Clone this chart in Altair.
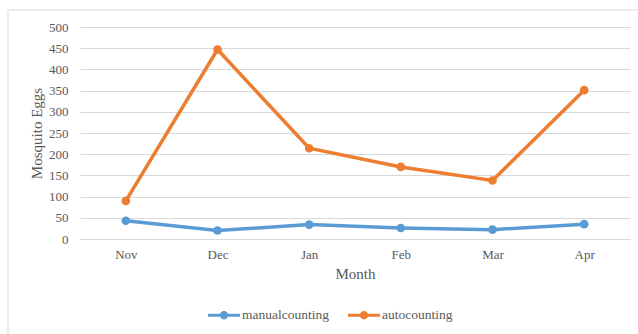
import altair as alt
import pandas as pd

months = ["Nov", "Dec", "Jan", "Feb", "Mar", "Apr"]
manual_counting = [43, 20, 34, 26, 22, 35]
auto_counting = [90, 447, 214, 170, 138, 351]
series_names = ["manualcounting", "autocounting"]
series_colors = ["#5B9BD5", "#ED7D31"]

rows = []
for name, values in zip(series_names, [manual_counting, auto_counting]):
    for m, v in zip(months, values):
        rows.append({"Month": m, "Series": name, "Eggs": v})
df = pd.DataFrame(rows)

FONT = "Liberation Serif"
TEXT = "#595959"

# line + circle legend glyph in the unit symbol space
legend_glyph = (
    "M-1,-0.095 H1 V0.095 H-1 Z "
    "M-0.26,0 A0.26,0.26 0 1,1 0.26,0 A0.26,0.26 0 1,1 -0.26,0 Z"
)

x_enc = alt.X(
    "Month:O",
    sort=months,
    scale=alt.Scale(padding=0.5),
    axis=alt.Axis(
        title="Month",
        labelAngle=0,
        ticks=False,
        grid=False,
        domainColor="#D9D9D9",
        labelPadding=9,
        titlePadding=5,
    ),
)
y_enc = alt.Y(
    "Eggs:Q",
    scale=alt.Scale(domain=[0, 500], nice=False),
    axis=alt.Axis(
        title="Mosquito Eggs",
        values=list(range(0, 501, 50)),
        ticks=False,
        domain=False,
        gridColor="#D9D9D9",
        labelPadding=12,
        titlePadding=4,
    ),
)
color_enc = alt.Color(
    "Series:N",
    scale=alt.Scale(domain=series_names, range=series_colors),
    legend=alt.Legend(
        title=None,
        orient="none",
        direction="horizontal",
        legendX=128,
        legendY=272,
        symbolType=legend_glyph,
        symbolSize=1024,
        symbolStrokeWidth=0,
        symbolOpacity=1,
        columnPadding=19,
        labelOffset=2,
        labelFont=FONT,
        labelFontSize=13.5,
        labelColor=TEXT,
    ),
)

lines = alt.Chart(df).mark_line(strokeWidth=3.5).encode(
    x=x_enc, y=y_enc, color=color_enc
)
points = alt.Chart(df).mark_point(filled=True, size=75, opacity=1).encode(
    x=x_enc, y=y_enc, color=color_enc
)

# outer chart frame
frame = alt.Chart(pd.DataFrame({"f": [0]})).mark_rect(
    fill=None, stroke="#D9D9D9", strokeWidth=1, clip=False
).encode(
    x=alt.value(-72), x2=alt.value(600), y=alt.value(-17), y2=alt.value(400)
)

chart = (
    alt.layer(frame, lines, points)
    .properties(
        width=550,
        height=212,
        autosize=alt.AutoSizeParams(type="none"),
        padding={"left": 80, "top": 27, "right": 8, "bottom": 95},
    )
    .configure(background="white", font=FONT)
    .configure_view(stroke=None)
    .configure_axis(
        labelFont=FONT,
        labelFontSize=13,
        labelColor=TEXT,
        titleFont=FONT,
        titleFontSize=15,
        titleFontWeight="normal",
        titleColor=TEXT,
    )
    .configure_legend(
        labelFont=FONT,
        labelFontSize=13.5,
        labelColor=TEXT,
    )
)

chart.save("out.html", embed_options={"renderer": "svg", "actions": False})
